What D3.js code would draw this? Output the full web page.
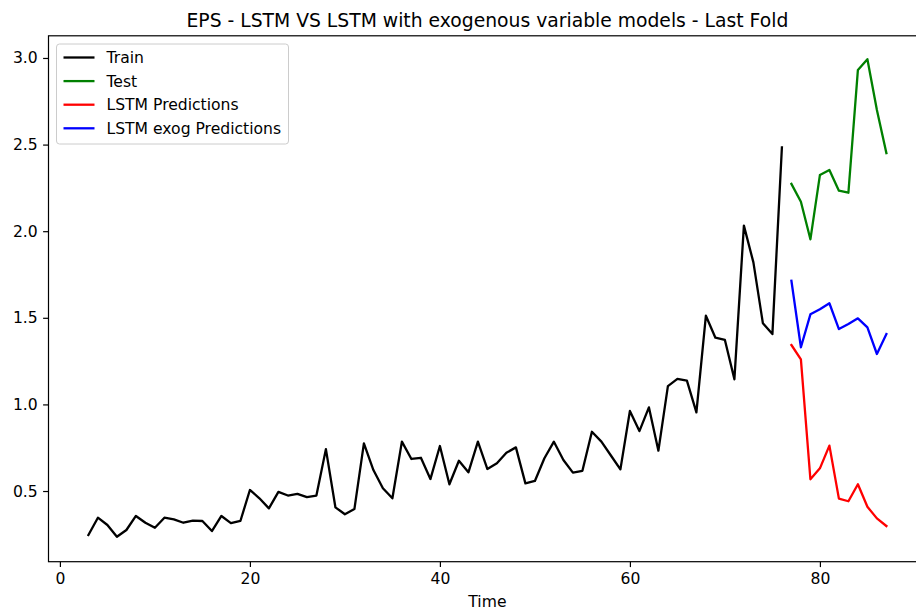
<!DOCTYPE html>
<html>
<head>
<meta charset="utf-8">
<script src="https://cdn.jsdelivr.net/npm/d3@7"></script>
<style>
  html, body { margin: 0; padding: 0; background: #fff; }
  svg { display: block; font-family: "DejaVu Sans", sans-serif; }
</style>
</head>
<body>
<svg id="chart" width="916" height="614"></svg>
<script>
// EPS series: training history, test window and two model forecasts
const trainX = d3.range(3, 77);
const trainY = [
  0.246, 0.346, 0.304, 0.236, 0.275, 0.356, 0.317, 0.288, 0.346, 0.336,
  0.317, 0.329, 0.327, 0.269, 0.356, 0.315, 0.327, 0.506, 0.458, 0.400,
  0.495, 0.474, 0.484, 0.465, 0.474, 0.742, 0.406, 0.366, 0.396, 0.775,
  0.621, 0.516, 0.458, 0.785, 0.685, 0.692, 0.569, 0.760, 0.539, 0.675,
  0.608, 0.785, 0.627, 0.660, 0.721, 0.752, 0.544, 0.558, 0.689, 0.785,
  0.679, 0.606, 0.617, 0.842, 0.785, 0.705, 0.625, 0.962, 0.846, 0.983,
  0.733, 1.106, 1.147, 1.137, 0.954, 1.512, 1.385, 1.372, 1.145, 2.032,
  1.820, 1.468, 1.406, 2.484
];
const testX = d3.range(77, 88);
const testY = [2.273, 2.170, 1.953, 2.324, 2.353, 2.234, 2.222, 2.931, 2.993, 2.700, 2.450];
const lstmY = [1.343, 1.260, 0.568, 0.631, 0.762, 0.456, 0.441, 0.539, 0.409, 0.342, 0.298];
const exogY = [1.714, 1.330, 1.520, 1.549, 1.584, 1.435, 1.464, 1.497, 1.445, 1.291, 1.406];

const xTicks = [0, 20, 40, 60, 80];
const yTicks = [0.5, 1.0, 1.5, 2.0, 2.5, 3.0];

const series = [
  { name: "Train", x: trainX, y: trainY, color: "#000000" },
  { name: "Test", x: testX, y: testY, color: "#008000" },
  { name: "LSTM Predictions", x: testX, y: lstmY, color: "#ff0000" },
  { name: "LSTM exog Predictions", x: testX, y: exogY, color: "#0000ff" }
];

const svg = d3.select("#chart");
const plotLeft = 48.5, plotRight = 926.3, plotTop = 35.8, plotBottom = 561.7;
const fontPx = 15.6, lineW = 2.3, tickLen = 5.4;

const x = d3.scaleLinear().domain([-1.2, 91.2]).range([plotLeft, plotRight]);
const y = d3.scaleLinear().domain([0.092, 3.128]).range([plotBottom, plotTop]);

// Title
svg.append("text")
  .attr("x", (plotLeft + plotRight) / 2).attr("y", 26.5)
  .attr("text-anchor", "middle")
  .style("font-size", "18.75px").attr("fill", "#000")
  .text("EPS - LSTM VS LSTM with exogenous variable models - Last Fold");

// Lines
const plot = svg.append("g");
const line = d3.line().x(d => x(d[0])).y(d => y(d[1]));
series.forEach(s => {
  plot.append("path")
    .datum(s.x.map((v, i) => [v, s.y[i]]))
    .attr("d", line)
    .attr("fill", "none")
    .attr("stroke", s.color)
    .attr("stroke-width", lineW)
    .attr("stroke-linejoin", "round")
    .attr("stroke-linecap", "square");
});

// Axes
const xAxis = d3.axisBottom(x).tickValues(xTicks).tickFormat(d3.format("d"))
  .tickSize(tickLen).tickPadding(tickLen);
const yAxis = d3.axisLeft(y).tickValues(yTicks).tickFormat(d3.format(".1f"))
  .tickSize(tickLen).tickPadding(tickLen);

const gx = svg.append("g").attr("transform", `translate(0,${plotBottom})`).call(xAxis);
const gy = svg.append("g").attr("transform", `translate(${plotLeft},0)`).call(yAxis);
[gx, gy].forEach(g => {
  g.select(".domain").remove();
  g.selectAll("line").attr("stroke", "#000").attr("stroke-width", 1.2);
  g.selectAll("text").style("font-size", fontPx + "px").attr("fill", "#000")
    .style("font-family", "DejaVu Sans, sans-serif");
});

// Frame
svg.append("rect")
  .attr("x", plotLeft).attr("y", plotTop)
  .attr("width", plotRight - plotLeft).attr("height", plotBottom - plotTop)
  .attr("fill", "none").attr("stroke", "#000").attr("stroke-width", 1.2);

// X label
svg.append("text")
  .attr("x", (plotLeft + plotRight) / 2).attr("y", 607)
  .attr("text-anchor", "middle")
  .style("font-size", fontPx + "px").attr("fill", "#000")
  .text("Time");

// Legend
const lg = svg.append("g").attr("transform", "translate(56.5,44)");
lg.append("rect")
  .attr("width", 232).attr("height", 100).attr("rx", 3)
  .attr("fill", "#fff").attr("fill-opacity", 0.8)
  .attr("stroke", "#cccccc").attr("stroke-width", 1);
series.forEach((s, i) => {
  const cy = 13.5 + i * 23.6;
  lg.append("line")
    .attr("x1", 7).attr("x2", 38).attr("y1", cy).attr("y2", cy)
    .attr("stroke", s.color).attr("stroke-width", lineW);
  lg.append("text")
    .attr("x", 50).attr("y", cy).attr("dy", "0.35em")
    .style("font-size", fontPx + "px").attr("fill", "#000")
    .text(s.name);
});
</script>
</body>
</html>
